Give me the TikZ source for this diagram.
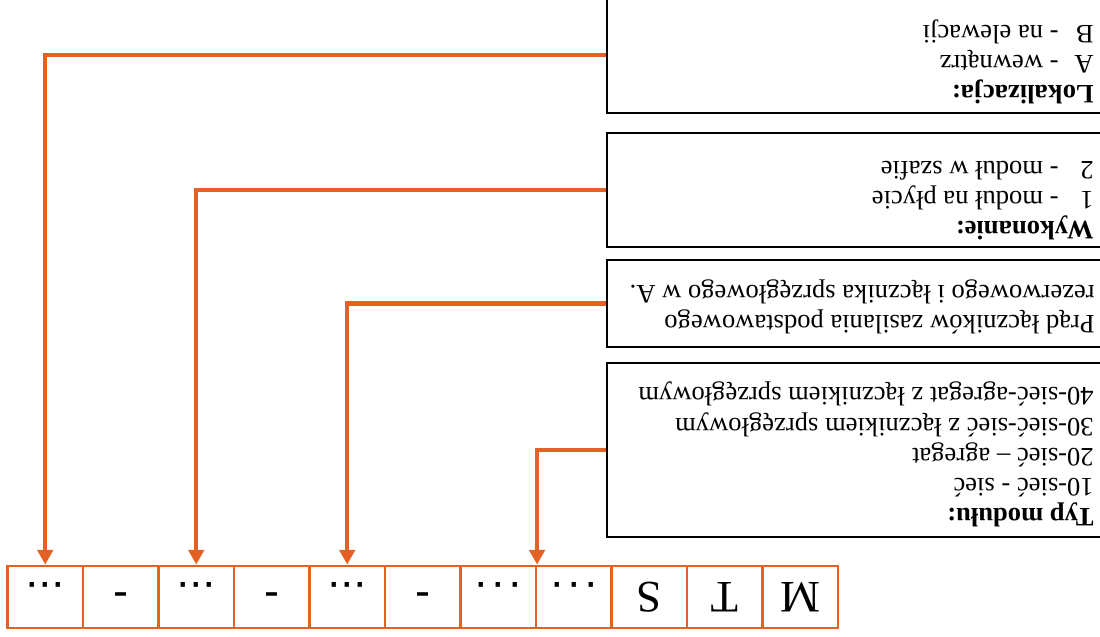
\documentclass[tikz,border=0pt]{standalone}
\usepackage{fontspec}
\setmainfont{Liberation Serif}
\newfontfamily\arialfont{Liberation Sans}
\usetikzlibrary{arrows.meta}
\definecolor{mtsorange}{RGB}{228,97,38}
\newcommand\px{0.025cm}
\newcommand\celldots{{\arialfont...}}
\newcommand\celldotswide{{\arialfont.\hspace{3.2pt}.\hspace{3.2pt}.}}
\newcommand\cellminus{{\arialfont -}}
\newcommand\tabitem[1]{\makebox[25pt][l]{#1}}
\begin{document}
\begin{tikzpicture}[x=\px,y=-\px,
  cell/.style={draw=mtsorange,line width=2pt,rotate=180,minimum width=75.5*\px,minimum height=62*\px,inner sep=0pt,text height=21.3pt,text depth=0pt,font=\fontsize{32}{36}\selectfont},
  info/.style={draw,line width=2pt,minimum width=503*\px,inner sep=0pt},
  txt/.style={rotate=180,anchor=north west,align=left,inner sep=0pt,font=\fontsize{18.9}{21.4}\selectfont},
  link/.style={mtsorange,line width=3pt,-{Triangle[width=11pt,length=10.5pt]}}]
 \clip (0,0) rectangle (1100,637);
 \fill[white] (0,0) rectangle (1100,637);
 % code row
 \foreach \t [count=\i] in {\celldots,\cellminus,\celldots,\cellminus,\celldots,\cellminus,\celldotswide,\celldotswide,S,T,M}
  \node[cell] (c\i) at (7.5+75.5*\i-37.75,597) {\t};
 % legend boxes
 \node[info,minimum height=116*\px] (lok) at (858.5,55) {};
 \node[info,minimum height=114*\px] (wyk) at (858.5,190) {};
 \node[info,minimum height=87*\px] (prad) at (858.5,303.5) {};
 \node[info,minimum height=174*\px] (typ) at (858.5,450) {};
 \node[txt] (loktxt) at (1094,104) {\textbf{Lokalizacja:}\\\tabitem{A}- wewnątrz\\\tabitem{B}- na elewacji};
 \node[txt] (wyktxt) at (1094,240) {\textbf{Wykonanie:}\\\tabitem{1}- moduł na płycie\\\tabitem{2}- moduł w szafie};
 \node[txt] (pradtxt) at (1095,334) {Prąd łączników zasilania podstawowego\\rezerwowego i łącznika sprzęgłowego w A.};
 \node[txt] (typtxt) at (1094,527) {\textbf{Typ modułu:}\\10-sieć - sieć\\20-sieć -- agregat\\30-sieć-sieć z łącznikiem sprzęgłowym\\40-sieć-agregat z łącznikiem sprzęgłowym};
 % connectors
 \draw[link] (lok.west) -| (c1.south);
 \draw[link] (wyk.west) -| (c3.south);
 \draw[link] (prad.west) -| (c5.south);
 \draw[link] (typ.west) -| ([xshift=2.5*\px]c8.south east);
\end{tikzpicture}
\end{document}
